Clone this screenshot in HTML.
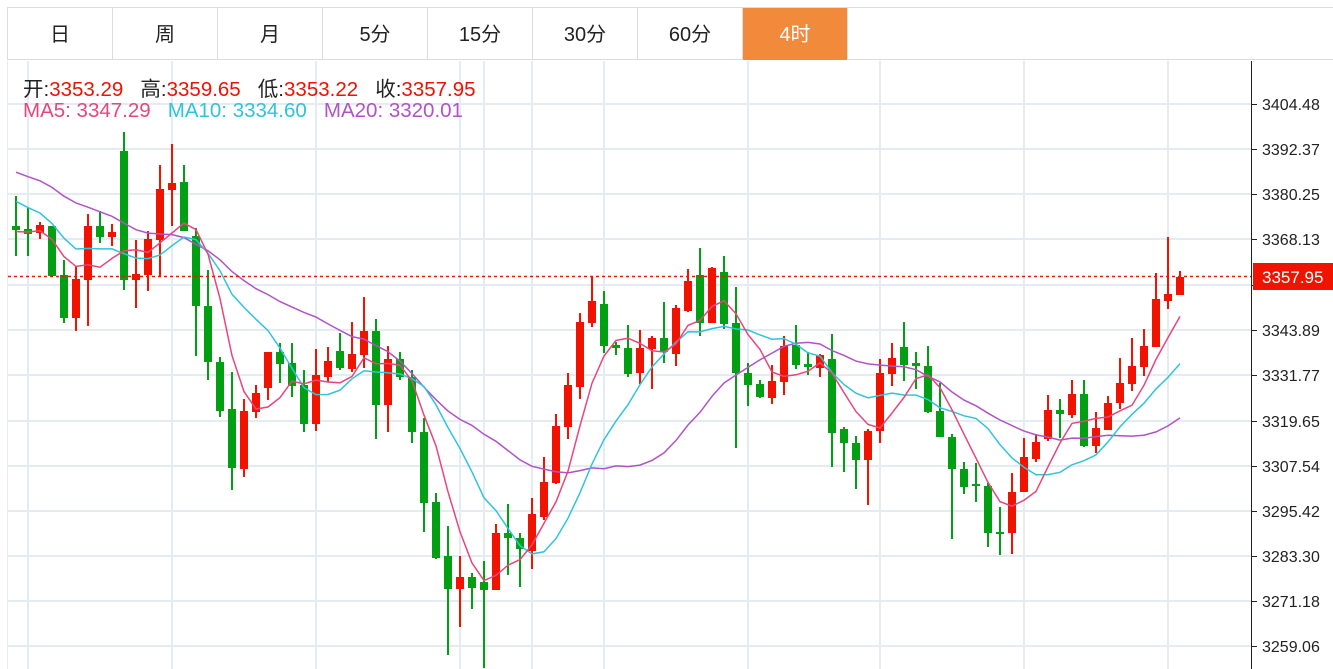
<!DOCTYPE html>
<html><head><meta charset="utf-8"><style>
body{margin:0;width:1333px;height:669px;overflow:hidden;background:#fff;font-family:"Liberation Sans","Noto Sans CJK SC",sans-serif;}
.tabs{position:absolute;left:7px;top:7px;height:53px;width:1326px;border:1px solid #dcdcdc;box-sizing:border-box;border-right:none;}
.tab{position:absolute;top:0;height:52px;width:105px;border-right:1px solid #dcdcdc;box-sizing:border-box;text-align:center;line-height:54px;font-size:20px;color:#222;}
.tab.on{background:#f28a3c;color:#fff;}
.hd{position:absolute;left:23px;font-size:20.5px;white-space:nowrap;}
.r{color:#ee1100}
</style></head><body>
<svg id="c" width="1333" height="669" style="position:absolute;left:0;top:0"></svg>
<div class="tabs">
<div class="tab" style="left:0">日</div><div class="tab" style="left:105px">周</div><div class="tab" style="left:210px">月</div><div class="tab" style="left:315px">5分</div><div class="tab" style="left:420px">15分</div><div class="tab" style="left:525px">30分</div><div class="tab" style="left:630px">60分</div><div class="tab on" style="left:735px">4时</div>
</div>
<div class="hd" style="top:72px;color:#222">开:<span class="r">3353.29</span>&nbsp;&nbsp; 高:<span class="r">3359.65</span>&nbsp;&nbsp; 低:<span class="r">3353.22</span>&nbsp;&nbsp; 收:<span class="r">3357.95</span></div>
<div class="hd" style="top:99px"><span style="color:#e8457c">MA5:&nbsp;3347.29</span>&nbsp;&nbsp; <span style="color:#2fc4da">MA10:&nbsp;3334.60</span>&nbsp;&nbsp; <span style="color:#b152c6">MA20:&nbsp;3320.01</span></div>
<script>
var D=[
['g',226,230,196,256],['g',229,234,208,256],['r',225,233,222,239],['g',226,276,226,276],['g',275,318,260,323],['r',279,318,266,331],['r',226,280,214,326],['g',226,237,211,243],['r',232,237,224,246],['g',151,280,132,290],
['r',274,280,240,308],['r',239,275,231,291],['r',189,240,165,276],['r',183,190,144,226],['g',182,231,165,231],['g',236,306,228,356],['g',306,362,270,380],['g',362,411,357,417],['g',409,468,372,490],['r',411,469,399,477],
['r',393,412,385,418],['r',352,388,352,400],['g',352,364,343,383],['g',363,386,343,397],['g',385,424,370,432],['r',375,424,349,431],['r',361,377,347,382],['g',351,368,333,370],['r',354,369,322,372],['r',331,355,297,368],
['g',331,405,319,439],['r',359,405,346,432],['g',359,377,352,380],['g',377,432,370,443],['g',432,503,418,532],['g',502,558,493,559],['g',556,589,526,655],['r',577,589,556,627],['g',577,588,573,609],['g',582,590,561,668],
['r',533,590,524,590],['g',533,538,504,575],['g',538,549,533,587],['r',514,551,498,569],['r',482,517,457,520],['r',426,483,414,484],['r',385,427,373,439],['r',322,387,313,399],['r',301,323,276,327],['g',304,346,291,353],
['g',345,348,342,355],['g',348,374,325,377],['r',348,373,330,384],['r',338,349,336,389],['g',338,352,302,363],['r',308,354,305,366],['r',281,311,269,312],['g',275,323,248,336],['r',268,323,267,323],['g',272,324,256,329],
['g',323,373,287,448],['g',373,385,363,406],['g',384,397,380,398],['r',381,398,365,404],['r',346,382,336,395],['g',345,365,325,369],['g',364,367,352,375],['r',355,368,354,377],['g',359,433,334,467],['g',429,443,427,472],
['g',443,460,436,489],['r',431,460,429,505],['r',373,431,359,443],['r',358,374,343,386],['g',347,365,322,381],['g',363,366,352,389],['g',366,412,346,413],['g',411,437,383,437],['g',437,469,434,539],['g',469,487,462,494],
['g',484,486,463,502],['g',486,533,483,547],['g',532,533,507,555],['r',492,533,473,554],['r',457,492,438,492],['r',442,459,434,462],['r',410,439,395,441],['g',410,414,399,438],['r',394,415,380,418],['g',394,446,380,447],
['r',428,446,412,453],['r',403,430,396,430],['r',383,403,358,409],['r',366,384,338,391],['r',346,367,329,376],['r',299,347,273,347],['r',294,301,237,309],['r',277,295,271,295]];
var s='',i;
var ys=[104,149,194,239,285,330,375,421,466,511,556,601,646];
var lab=['3404.48','3392.37','3380.25','3368.13','3356.01','3343.89','3331.77','3319.65','3307.54','3295.42','3283.30','3271.18','3259.06'];
ys.forEach(function(y){s+='<line x1="8" x2="1251" y1="'+y+'" y2="'+y+'" stroke="#e4ecf2" stroke-width="2"/>';});
[28,172,316,460,484,532,604,748,880,1024,1168].forEach(function(x){s+='<line x1="'+x+'" x2="'+x+'" y1="61" y2="669" stroke="#e4ecf2" stroke-width="2"/>';});
s+='<line x1="7.5" x2="7.5" y1="61" y2="669" stroke="#e4ecf2"/>';
s+='<line x1="1251.5" x2="1251.5" y1="61" y2="669" stroke="#222"/>';
ys.forEach(function(y,k){s+='<line x1="1252" x2="1257" y1="'+(y+0.5)+'" y2="'+(y+0.5)+'" stroke="#222"/>';if(k!=4)s+='<text x="1262" y="'+(y+6)+'" font-size="16" fill="#222" font-family="Liberation Sans,sans-serif">'+lab[k]+'</text>';});
var cl=D.map(function(d){return d[0]=='r'?d[1]:d[2];});
var pad=[];for(i=0;i<10;i++)pad.push(143);for(i=0;i<5;i++)pad.push(171);for(i=0;i<4;i++)pad.push(232);
var all=pad.concat(cl);
function ma(n,col){var p='';for(var j=0;j<cl.length;j++){var k=j+pad.length,sum=0;for(var t=0;t<n;t++)sum+=all[k-t];p+=(j?' L':'M')+(16+12*j)+' '+(sum/n).toFixed(1);}
 return '<path d="'+p+'" fill="none" stroke="'+col+'" stroke-width="1.5"/>';}
D.forEach(function(d,j){var x=16+12*j,c=d[0]=='r'?'#f01400':'#00a012';
 s+='<line x1="'+x+'" x2="'+x+'" y1="'+d[3]+'" y2="'+d[4]+'" stroke="'+c+'" stroke-width="2"/>';
 s+='<rect x="'+(x-4)+'" y="'+d[1]+'" width="8" height="'+Math.max(2,d[2]-d[1])+'" fill="'+c+'"/>';});
s+=ma(20,'#b152c6')+ma(10,'#2fc4da')+ma(5,'#e8457c');
s+='<line x1="8" x2="1251" y1="276.5" y2="276.5" stroke="#f01400" stroke-dasharray="3,3" stroke-width="1.5"/>';
s+='<rect x="1253" y="263" width="80" height="27" fill="#f01400"/><text x="1262" y="283" font-size="17" fill="#fff" font-family="Liberation Sans,sans-serif">3357.95</text>';
document.getElementById('c').innerHTML=s;
</script>
</body></html>
